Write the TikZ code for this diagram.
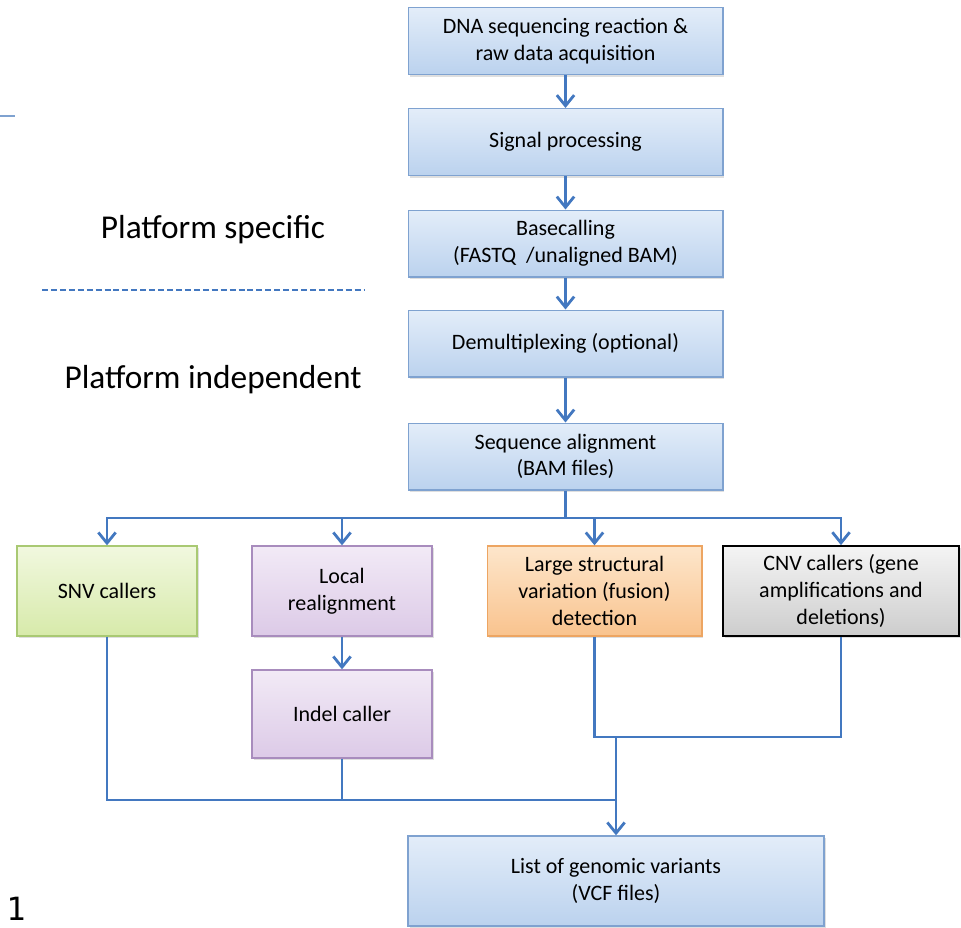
\documentclass[tikz,border=0pt]{standalone}
\usepackage{fontspec}
\setmainfont{Carlito}
\newfontfamily\numfont{DejaVu Sans Mono}
\usetikzlibrary{arrows.meta,shadows}

\definecolor{flowblue}{HTML}{4378C0}
\definecolor{blueedge}{HTML}{7FA2D0}
\definecolor{bluetop}{HTML}{E3EDF9}
\definecolor{bluebot}{HTML}{BBD2EE}
\definecolor{greenedge}{HTML}{A9C973}
\definecolor{greentop}{HTML}{F1F8DF}
\definecolor{greenbot}{HTML}{D7EAAA}
\definecolor{purpleedge}{HTML}{A88CBD}
\definecolor{purpletop}{HTML}{F2EAF6}
\definecolor{purplebot}{HTML}{DCCAE7}
\definecolor{orangeedge}{HTML}{EDA562}
\definecolor{orangetop}{HTML}{FDE6CB}
\definecolor{orangebot}{HTML}{F9C38E}
\definecolor{greytop}{HTML}{F4F4F4}
\definecolor{greybot}{HTML}{CDCDCD}

\tikzset{
  stepbox/.style={draw=blueedge, line width=1pt, top color=bluetop, bottom color=bluebot,
    align=center, inner sep=2pt, font=\fontsize{16.5}{20}\selectfont,
    drop shadow={opacity=0.25, shadow xshift=1.2pt, shadow yshift=-1.8pt}},
  topbox/.style={stepbox, minimum width=236pt, minimum height=50pt},
  callbox/.style={stepbox, minimum width=135pt, minimum height=67.5pt},
  flow/.style={draw=flowblue, line width=2.1pt},
  flowarrow/.style={flow, -{Straight Barb[length=8pt,width=13pt,line width=2.1pt]}},
  sidelabel/.style={font=\fontsize{25}{30}\selectfont}
}

\begin{document}
\begin{tikzpicture}[x=0.75pt,y=-0.75pt]
  \useasboundingbox (0,0) rectangle (961,928);

  % platform specific part
  \node (reaction) [topbox] at (565.5,41) {DNA sequencing reaction \&\\raw data acquisition};
  \node (signal) [topbox] at (565.5,142) {Signal processing};
  \node (basecall) [topbox] at (565.5,243.5) {Basecalling\\(FASTQ~~/unaligned BAM)};
  \node (demux) [topbox] at (565.5,343.5) {Demultiplexing (optional)};
  \node (align) [topbox] at (565.5,456.5) {Sequence alignment\\(BAM files)};

  \node (specific) [sidelabel] at (213,230) {Platform specific};
  \node (independent) [sidelabel] at (213,380) {Platform independent};
  \draw[flowblue, line width=1.1pt, dash pattern=on 4.5pt off 2.2pt] (42,290) -- (365,290);
  \draw[blueedge, line width=1.5pt] (0,116) -- (15,116);

  % callers
  \node (snv) [callbox, draw=greenedge, top color=greentop, bottom color=greenbot] at (107,591) {SNV callers};
  \node (realign) [callbox, draw=purpleedge, top color=purpletop, bottom color=purplebot] at (342,591) {Local\\realignment};
  \node (sv) [callbox, minimum width=161pt, draw=orangeedge, top color=orangetop, bottom color=orangebot] at (594.5,591) {Large structural\\variation (fusion)\\detection};
  \node (cnv) [callbox, minimum width=177pt, draw=black, line width=1.3pt, top color=greytop, bottom color=greybot] at (841,591) {CNV callers (gene\\amplifications and\\deletions)};
  \node (indel) [callbox, minimum height=66pt, draw=purpleedge, top color=purpletop, bottom color=purplebot] at (342,714) {Indel caller};

  \node (vcf) [stepbox, minimum width=312pt, minimum height=67.5pt] at (616,881) {List of genomic variants\\(VCF files)};
  \node (fignum) [font=\numfont\fontsize{24}{28}\selectfont] at (16,909) {1};

  \coordinate (bus) at (565.5,518);
  \coordinate (svjoin) at (841,737);
  \coordinate (merge) at (616,737);
  \coordinate (join) at (616,800);

  \draw[flowarrow] (reaction) -- (signal);
  \draw[flowarrow] (signal) -- (basecall);
  \draw[flowarrow] (basecall) -- (demux);
  \draw[flowarrow] (demux) -- (align);
  \draw[flow] (align) -- (bus);
  \draw[flowarrow] (bus) -| (snv);
  \draw[flowarrow] (bus) -| (realign);
  \draw[flowarrow] (bus) -| (sv);
  \draw[flowarrow] (bus) -| (cnv);
  \draw[flowarrow] (realign) -- (indel);
  \draw[flow] (sv) |- (svjoin) -- (cnv);
  \draw[flow] (snv) |- (join);
  \draw[flow] (indel) |- (join);
  \draw[flowarrow] (merge) -- (vcf);
\end{tikzpicture}
\end{document}
